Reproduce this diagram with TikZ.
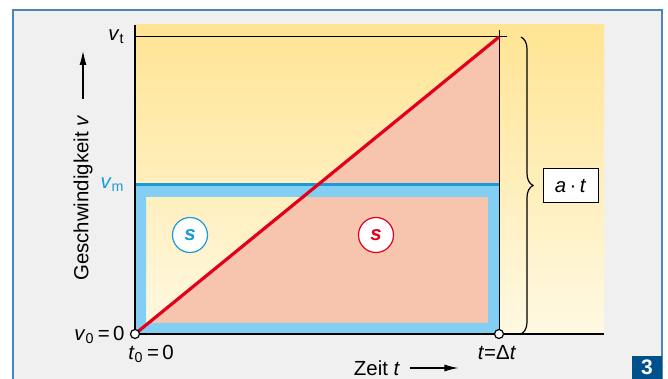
\documentclass[tikz,border=0pt]{standalone}
\usepackage{fontspec}
\setmainfont{Liberation Sans}
\usetikzlibrary{positioning,calc,arrows.meta,decorations.pathreplacing}
\definecolor{rahmen}{HTML}{F0F0F0}
\definecolor{rahmenlinie}{HTML}{4A86B8}
\definecolor{gelboben}{HTML}{FFE493}
\definecolor{gelbunten}{HTML}{FFF9E3}
\definecolor{lachs}{HTML}{F7C4AE}
\definecolor{hellblau}{HTML}{82CFF3}
\definecolor{dunkelblau}{HTML}{1A9AD9}
\definecolor{rot}{HTML}{E3001B}
\definecolor{nummer}{HTML}{00508C}

\begin{document}
\begin{tikzpicture}[x=0.5pt,y=0.5pt,
    lbl/.style={font=\fontsize{10.2}{12}\selectfont,inner sep=1pt},
    pfeil/.style={-{Latex[length=7pt,width=3.5pt]},line width=0.6pt},
    marke/.style={circle,draw,fill=white,inner sep=0pt,minimum size=4.5pt,line width=0.6pt},
    weg/.style={circle,draw,fill=white,inner sep=0pt,minimum size=17.5pt,line width=0.6pt,
        font=\fontsize{10.2}{12}\selectfont\bfseries\itshape}]
    \useasboundingbox (0,0) rectangle (668,379);
    % frame
    \fill[rahmen] (13,-5) rectangle (662,369);
    \draw[rahmenlinie,line width=0.6pt] (13,-5) -- (13,369) -- (662,369) -- (662,-5);
    % diagram area
    \shade[top color=gelboben,bottom color=gelbunten] (135,45) rectangle (604,354);
    \coordinate (O) at (135,45);
    \coordinate (T) at (499,342);
    \coordinate (E) at (499,45);
    \fill[lachs] (O) -- (T) -- (E) -- cycle;
    \fill[hellblau,even odd rule] (135,45) rectangle (499,194) (146,56) rectangle (488,182);
    \draw[dunkelblau,line width=1.5pt] (135,194) -- (499,194);
    \draw[line width=0.5pt] (135,342) -- (507,342);
    \draw[line width=0.5pt] (499,349) -- (E);
    \draw[rot,line width=1.6pt] (O) -- (T);
    \draw[line width=1pt] (135,354) -- (O) -- (604,45);
    \node[marke] (m0) at (O) {};
    \node[marke] (m1) at (E) {};
    % areas s
    \foreach \px/\farbe in {190/dunkelblau,376/rot}
        \node[weg,draw=\farbe,text=\farbe] at (\px,144) {s};
    % brace
    \draw[decorate,decoration={brace,amplitude=6pt},line width=0.6pt] (521,342) -- (521,45);
    \node[lbl,draw,fill=white,minimum width=27.5pt,minimum height=17pt,line width=0.5pt]
        (at) at (570.5,193) {\textit{a}\,·\,\textit{t}};
    % labels on the axes
    \node[lbl,anchor=east] (vt) at (127,342) {\textit{v}\textsubscript{t}};
    \node[lbl,anchor=east,text=dunkelblau] (vm) at (127,194) {\textit{v}\textsubscript{m}};
    \node[lbl,anchor=east] (v0) at (127,44) {\textit{v}\textsubscript{0}\,=\,0};
    \node[lbl] (t0) at (151,25) {\textit{t}\textsubscript{0}\,=\,0};
    \node[lbl] (tE) at (497,26) {\textit{t}=Δ\textit{t}};
    \node[lbl,rotate=90] (ylbl) at (83,181) {Geschwindigkeit \textit{v}};
    \draw[pfeil] ([yshift=7pt]ylbl.east) -- ++(0,48);
    \node[lbl] (xlbl) at (377,11) {Zeit \textit{t}};
    \draw[pfeil] ([xshift=4pt]xlbl.east) -- ++(48,0);
    % figure number
    \fill[nummer] (632,0) rectangle (662,23);
    \node[font=\fontsize{10.5}{12}\selectfont\bfseries,text=white,inner sep=0pt] (nr) at (647,11.5) {3};
\end{tikzpicture}
\end{document}
